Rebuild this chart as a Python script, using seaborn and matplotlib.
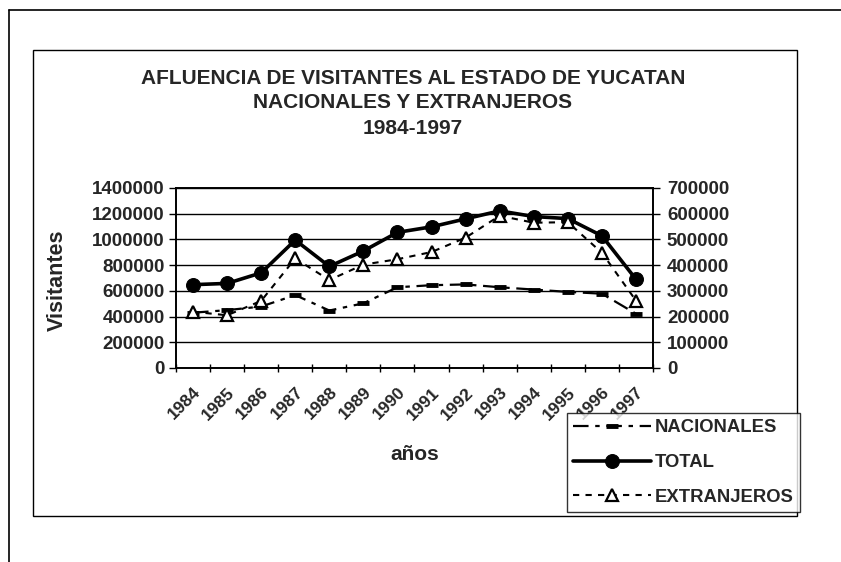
import numpy as np
import pandas as pd
import matplotlib
matplotlib.use("Agg")
import matplotlib.pyplot as plt
import matplotlib.transforms as mtransforms
import seaborn as sns
from matplotlib.lines import Line2D
from matplotlib.patches import Rectangle
from matplotlib.ticker import FixedLocator, NullFormatter, StrMethodFormatter

# data
anios = ["1984", "1985", "1986", "1987", "1988", "1989", "1990",
         "1991", "1992", "1993", "1994", "1995", "1996", "1997"]
nacionales = [430000, 450000, 478000, 567000, 447000, 503000, 628000,
              644000, 650000, 628000, 610000, 592000, 578000, 422000]
total = [648000, 658000, 740000, 995000, 790000, 910000, 1055000,
         1098000, 1160000, 1222000, 1178000, 1162000, 1028000, 690000]
extranjeros = [219000, 205000, 261000, 426000, 342000, 402000, 423000,
               451000, 507000, 592000, 565000, 567000, 448000, 262000]

df = pd.DataFrame({"pos": np.arange(len(anios)), "anio": anios,
                   "NACIONALES": nacionales, "TOTAL": total,
                   "EXTRANJEROS": extranjeros})

sns.set_theme(style="white")
plt.rcParams["font.family"] = ["Liberation Sans", "DejaVu Sans"]
plt.rcParams["font.weight"] = "bold"

W, H = 841, 562
fig = plt.figure(figsize=(W / 100, H / 100), dpi=100)
fig.patch.set_facecolor("white")

# plot area in pixel terms
x0, x1, ytop, ybot = 176, 653, 188, 368
ax = fig.add_axes([x0 / W, 1 - ybot / H, (x1 - x0) / W, (ybot - ytop) / H])
ax2 = ax.twinx()

sns.lineplot(data=df, x="pos", y="NACIONALES", ax=ax, color="black",
             linestyle=(0, (7, 3, 2, 3)), linewidth=1.6, marker="_",
             markersize=9, markeredgewidth=3.5, markeredgecolor="black",
             label="NACIONALES", legend=False)
sns.lineplot(data=df, x="pos", y="TOTAL", ax=ax, color="black",
             linewidth=2.6, marker="o", markersize=10, markeredgecolor="black",
             label="TOTAL", legend=False)
sns.lineplot(data=df, x="pos", y="EXTRANJEROS", ax=ax2, color="black",
             linestyle=(0, (3, 3)), linewidth=1.5, marker="^", markersize=8.5,
             markerfacecolor="white", markeredgecolor="black", markeredgewidth=1.6,
             label="EXTRANJEROS", legend=False)

n = len(anios)
for a in (ax, ax2):
    a.set_xlim(-0.5, n - 0.5)
    a.set_facecolor("none")
    for s in a.spines.values():
        s.set_color("black")
        s.set_linewidth(1.2)
ax.set_ylim(0, 1400000)
ax2.set_ylim(0, 700000)
ax.set_yticks(np.arange(0, 1400001, 200000))
ax2.set_yticks(np.arange(0, 700001, 100000))
ax.yaxis.set_major_formatter(StrMethodFormatter("{x:.0f}"))
ax2.yaxis.set_major_formatter(StrMethodFormatter("{x:.0f}"))
ax.yaxis.grid(True, color="black", linewidth=1.0)
ax.set_axisbelow(True)

ax.set_xticks(np.arange(n))
ax.set_xticklabels(anios, rotation=45, ha="right", va="top",
                   rotation_mode="anchor", fontsize=12.5, fontweight="bold")
shift = mtransforms.ScaledTranslation(-5 / 100, 0, fig.dpi_scale_trans)
for lab in ax.get_xticklabels():
    lab.set_transform(lab.get_transform() + shift)
ax.xaxis.set_minor_locator(FixedLocator(np.arange(-0.5, n, 1.0)))
ax.xaxis.set_minor_formatter(NullFormatter())
ax.tick_params(axis="x", which="major", length=0, pad=12)
ax.tick_params(axis="x", which="minor", length=6, direction="inout",
               width=1, color="black", bottom=True)
ax.tick_params(axis="y", length=5, direction="out", width=1, color="black",
               labelsize=13.5, left=True, pad=3)
ax2.tick_params(axis="y", length=5, direction="out", width=1, color="black",
                labelsize=13.5, right=True, pad=5)
for lab in ax.get_yticklabels() + ax2.get_yticklabels():
    lab.set_fontweight("bold")

ax.set_xlabel("años", fontsize=15, fontweight="bold", labelpad=16)
ax.set_ylabel("Visitantes", fontsize=15.5, fontweight="bold")
ax.yaxis.set_label_coords((68 - x0) / (x1 - x0), (ybot - 280) / (ybot - ytop))
ax2.set_ylabel("")

for yy, txt in [(78, "AFLUENCIA DE VISITANTES AL ESTADO DE YUCATAN"),
                (103, "NACIONALES Y EXTRANJEROS"),
                (129, "1984-1997")]:
    fig.text(413 / W, 1 - yy / H, txt, ha="center", va="center",
             fontsize=15, fontweight="bold")

handles = ax.get_lines()[:2] + ax2.get_lines()[:1]
leg = fig.legend(handles=handles, labels=["NACIONALES", "TOTAL", "EXTRANJEROS"],
                 loc="upper left", bbox_to_anchor=(567 / W, 1 - 413 / H),
                 frameon=True, fancybox=False, edgecolor="black",
                 handlelength=4.2, handletextpad=0.2, borderpad=0.35,
                 borderaxespad=0, labelspacing=0.95,
                 prop={"weight": "bold", "size": 13.3})
leg.get_frame().set_linewidth(1.0)

# page border and chart frame from the scan
fig.add_artist(Line2D([9 / W, 9 / W], [0, 1 - 10 / H], color="black", lw=1.2))
fig.add_artist(Line2D([9 / W, 1], [1 - 10 / H, 1 - 10 / H], color="black", lw=1.2))
fig.add_artist(Rectangle((33 / W, 1 - 516 / H), (797 - 33) / W, (516 - 50) / H,
                         fill=False, edgecolor="black", lw=1.0,
                         transform=fig.transFigure))

fig.savefig("out.png", dpi=100)
